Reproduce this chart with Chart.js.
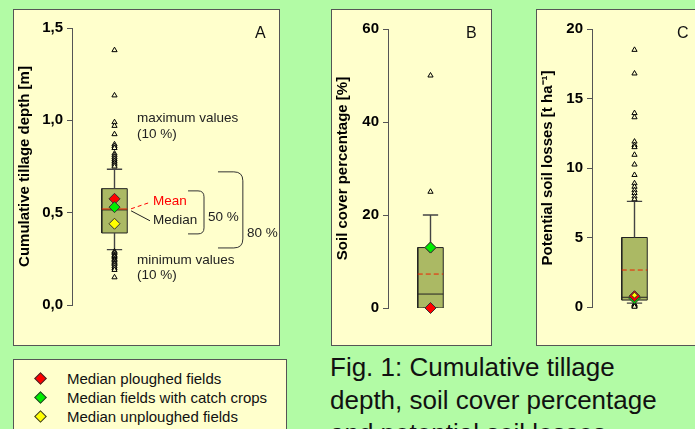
<!DOCTYPE html>
<html>
<head>
<meta charset="utf-8">
<script src="https://cdn.jsdelivr.net/npm/chart.js@4.4.1/dist/chart.umd.min.js"></script>
<style>
body { margin:0; width:695px; height:429px; overflow:hidden; position:relative;
       background:#b2fba5; font-family:'Liberation Sans', Arial, sans-serif; }
.panel { position:absolute; background:#ffffcc; border:1px solid #555; overflow:hidden; }
.panel canvas { position:absolute; left:0; top:0; }
.letter { position:absolute; font-size:16px; line-height:16px; color:#111; }
#legend { position:absolute; left:13px; top:359px; width:272px; height:90px;
          background:#ffffcc; border:1px solid #555; }
.row { position:absolute; left:0; height:19px; line-height:19px; font-size:15px; color:#111; white-space:nowrap; }
.row i { position:absolute; left:22px; top:5px; width:7px; height:7px; border:1px solid #333;
         transform:rotate(45deg); }
.row span { position:absolute; left:53px; }
#caption { position:absolute; left:330px; top:351px; font-size:26px; line-height:33px; color:#111; }
</style>
</head>
<body>

<div class="panel" style="left:13px;top:9px;width:265px;height:335px">
  <canvas id="chartA" width="265" height="335"></canvas>
  <div class="letter" style="left:241px;top:15px">A</div>
</div>
<div class="panel" style="left:331px;top:9px;width:159px;height:335px">
  <canvas id="chartB" width="159" height="335"></canvas>
  <div class="letter" style="left:134px;top:15px">B</div>
</div>
<div class="panel" style="left:536px;top:9px;width:200px;height:335px">
  <canvas id="chartC" width="200" height="335"></canvas>
  <div class="letter" style="left:140px;top:15px">C</div>
</div>

<div id="legend"></div>
<div id="caption">Fig. 1: Cumulative tillage<br>depth, soil cover percentage<br>and potential soil losses</div>

<script>
Chart.defaults.font.family = "'Liberation Sans', Arial, sans-serif";
Chart.defaults.animation = false;

// ===== DATA =====
// box = [10th pct, 25th pct, median, 75th pct, 90th pct]

// A - cumulative tillage depth [m]
const depthBox = [0.30, 0.39, 0.515, 0.63, 0.735];
const depthMean = 0.52;
const depthOutliers = [1.38, 1.135, 0.99, 0.97, 0.925, 0.87, 0.86, 0.85, 0.82, 0.81, 0.80, 0.79, 0.78, 0.77, 0.76, 0.75,
    0.29, 0.285, 0.28, 0.27, 0.265, 0.26, 0.25, 0.245, 0.24, 0.23, 0.225, 0.22, 0.21, 0.20, 0.19, 0.15];
const depthGroupMedians = [0.575, 0.53, 0.44];
const depthTicks = [0, 0.5, 1.0, 1.5];

// B - soil cover percentage [%]
const coverBox = [0, 0, 3, 13, 20];
const coverMean = 7.3;
const coverOutliers = [25, 50];
const coverGroupMedians = [0, 13, 13];
const coverTicks = [0, 20, 40, 60];

// C - potential soil losses [t/ha]
const lossBox = [0.28, 0.5, 0.7, 5.0, 7.6];
const lossMean = 2.66;
const lossOutliers = [18.5, 16.8, 13.95, 13.65, 11.9, 11.65, 11.5, 10.95, 10.25, 9.5, 8.9, 8.65, 8.4, 8.2, 7.95, 7.75,
    0.2, 0.15, 0.1, 0.05, 0.02];
const lossGroupMedians = [0.78, 0.62, 0.85];
const lossTicks = [0, 5, 10, 15, 20];

// groups: ploughed, catch crops, unploughed
const groupNames = ["Median ploughed fields", "Median fields with catch crops", "Median unploughed fields"];
const groupColors = ["#ff0000", "#00ee00", "#ffff00"];

const BOX_W = 0.3;   // half box width in x units
const CAP_W = 0.18;  // half whisker cap width

// ===== LEGEND =====
const legend = document.getElementById("legend");
groupNames.forEach((name, i) => {
    legend.innerHTML += `<div class="row" style="top:${9 + i * 19}px"><i style="background:${groupColors[i]}"></i><span>${name}</span></div>`;
});

// ===== A ANNOTATIONS =====
const notesPlugin = {
    id: "notes",
    afterDatasetsDraw(chart) {
        const ctx = chart.ctx;
        const x = v => chart.scales.x.getPixelForValue(v);
        const y = v => chart.scales.y.getPixelForValue(v);
        ctx.save();
        ctx.font = "13.5px 'Liberation Sans', Arial, sans-serif";
        ctx.textBaseline = "middle";
        ctx.textAlign = "left";
        ctx.fillStyle = "#222";
        ctx.fillText("maximum values", x(0.53), y(1.01));
        ctx.fillText("(10 %)", x(0.53), y(0.927));
        ctx.fillText("minimum values", x(0.53), y(0.244));
        ctx.fillText("(10 %)", x(0.53), y(0.163));
        ctx.fillText("Median", x(0.906), y(0.461));
        ctx.fillText("50 %", x(2.2), y(0.477));
        ctx.fillText("80 %", x(3.118), y(0.39));
        ctx.fillStyle = "#ff0000";
        ctx.fillText("Mean", x(0.906), y(0.559));

        // pointer lines
        ctx.lineWidth = 1;
        ctx.strokeStyle = "#ff0000";
        ctx.setLineDash([4, 3]);
        ctx.beginPath();
        ctx.moveTo(x(0.39), y(0.521));
        ctx.lineTo(x(0.8), y(0.553));
        ctx.stroke();
        ctx.setLineDash([]);
        ctx.strokeStyle = "#222";
        ctx.beginPath();
        ctx.moveTo(x(0.39), y(0.51));
        ctx.lineTo(x(0.835), y(0.456));
        ctx.stroke();

        // brackets
        const bracket = (x0, x1, top, bot, r) => {
            ctx.beginPath();
            ctx.moveTo(x(x0), y(top));
            ctx.lineTo(x(x1) - r, y(top));
            ctx.quadraticCurveTo(x(x1), y(top), x(x1), y(top) + r);
            ctx.lineTo(x(x1), y(bot) - r);
            ctx.quadraticCurveTo(x(x1), y(bot), x(x1) - r, y(bot));
            ctx.lineTo(x(x0), y(bot));
            ctx.stroke();
        };
        ctx.strokeStyle = "#333";
        bracket(1.73, 2.106, 0.618, 0.385, 6);
        bracket(2.435, 3.02, 0.721, 0.309, 9);
        ctx.restore();
    }
};

// ===== CHART BUILDER =====
function boxChart(id, cfg) {
    const [p10, q1, med, q3, p90] = cfg.box;
    const line = (data, extra) => Object.assign({
        data: data, pointRadius: 0, pointHoverRadius: 0, borderWidth: 1, borderColor: "#222", fill: false
    }, extra);
    const gap = { x: 0, y: null };

    const datasets = [
        line([{ x: -BOX_W, y: q3 }, { x: BOX_W, y: q3 }],
            { fill: { value: q1 }, backgroundColor: "#abb964", borderColor: "rgba(0,0,0,0)", order: 20 }),
        line([{ x: -BOX_W, y: q1 }, { x: BOX_W, y: q1 }, { x: BOX_W, y: q3 }, { x: -BOX_W, y: q3 }, { x: -BOX_W, y: q1 }],
            { order: 19 }),
        line([{ x: 0, y: q3 }, { x: 0, y: p90 }, gap, { x: -CAP_W, y: p90 }, { x: CAP_W, y: p90 }, gap,
              { x: 0, y: q1 }, { x: 0, y: p10 }, gap, { x: -CAP_W, y: p10 }, { x: CAP_W, y: p10 }],
            { borderColor: "#444", borderWidth: 1.4, order: 18 }),
        line([{ x: -BOX_W, y: med }, { x: BOX_W, y: med }], { order: 17 }),
        line([{ x: -BOX_W, y: cfg.mean }, { x: BOX_W, y: cfg.mean }],
            { borderColor: "#ee2200", borderDash: cfg.meanDash, order: 16 }),
        {
            data: cfg.outliers.map(v => ({ x: 0, y: v })), showLine: false, clip: false,
            pointStyle: "triangle", pointRadius: 3, pointBackgroundColor: "#ffffcc",
            pointBorderColor: "#000", pointBorderWidth: 1, order: 15
        }
    ];
    cfg.medians.forEach((v, i) => {
        datasets.push({
            data: [{ x: 0, y: v }], showLine: false, clip: false,
            pointStyle: "rectRot", pointRadius: cfg.medianRadius[i], pointBackgroundColor: groupColors[i],
            pointBorderColor: "#333", pointBorderWidth: 1, order: cfg.medianOrder[i]
        });
    });

    const ticks = cfg.ticks;
    return new Chart(document.getElementById(id), {
        type: "line",
        data: { datasets: datasets },
        options: {
            responsive: false,
            layout: { padding: cfg.pad },
            plugins: { legend: { display: false }, tooltip: { enabled: false } },
            events: [],
            scales: {
                x: { type: "linear", min: -1, max: 1, display: false },
                y: {
                    min: ticks[0], max: ticks[ticks.length - 1],
                    afterBuildTicks: s => { s.ticks = ticks.map(v => ({ value: v })); },
                    afterFit: s => { s.width = cfg.axisX; },
                    grid: { drawOnChartArea: false, tickLength: 5, color: "#555" },
                    border: { color: "#555", width: 1 },
                    ticks: {
                        color: "#000", padding: 4,
                        font: { size: 15, weight: "bold" },
                        callback: cfg.fmt
                    },
                    title: {
                        display: true, text: cfg.title, color: "#000",
                        font: { size: 15, weight: "bold" }, padding: { top: 2, bottom: 0 }
                    }
                }
            }
        },
        plugins: cfg.plugins || []
    });
}

boxChart("chartA", {
    box: depthBox, mean: depthMean, outliers: depthOutliers, medians: depthGroupMedians, ticks: depthTicks,
    title: "Cumulative tillage depth [m]", fmt: v => v.toFixed(1).replace(".", ","),
    axisX: 58, pad: { top: 18, bottom: 40, left: 0, right: 122 }, meanDash: [],
    medianOrder: [4, 3, 2], medianRadius: [5.5, 5.5, 5.5], plugins: [notesPlugin]
});

boxChart("chartB", {
    box: coverBox, mean: coverMean, outliers: coverOutliers, medians: coverGroupMedians, ticks: coverTicks,
    title: "Soil cover percentage [%]", fmt: v => v,
    axisX: 56, pad: { top: 19, bottom: 37, left: 0, right: 18 }, meanDash: [5, 3],
    medianOrder: [2, 3, 4], medianRadius: [5.5, 5.5, 5.5]
});

boxChart("chartC", {
    box: lossBox, mean: lossMean, outliers: lossOutliers, medians: lossGroupMedians, ticks: lossTicks,
    title: "Potential soil losses [t ha\u207B\u00B9]", fmt: v => v,
    axisX: 55, pad: { top: 19, bottom: 38, left: 0, right: 60 }, meanDash: [5, 3],
    medianOrder: [3, 4, 2], medianRadius: [5.5, 5.5, 3]
});
</script>
</body>
</html>
